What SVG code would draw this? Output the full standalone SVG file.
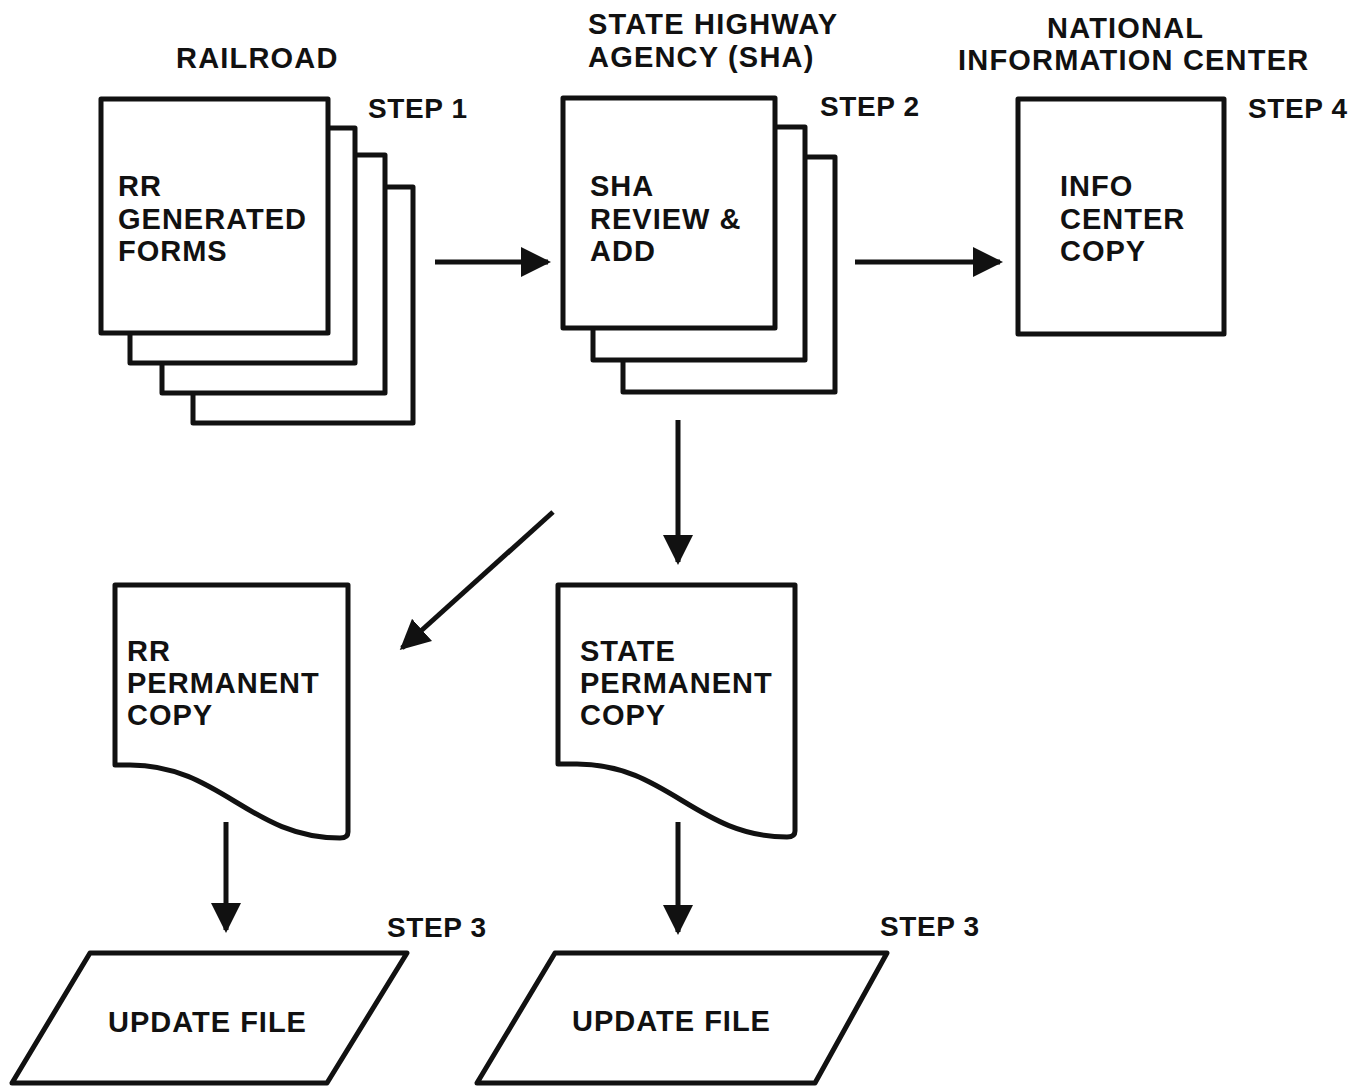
<svg xmlns="http://www.w3.org/2000/svg" width="1360" height="1091" viewBox="0 0 1360 1091">
<defs>
<style>
text{font-family:"Liberation Sans",Arial,sans-serif;font-weight:bold;fill:#111;}
.t{font-size:29px;letter-spacing:1px;}
.h{font-size:29px;letter-spacing:1.2px;}
.s{font-size:28px;letter-spacing:0.6px;}
.box{fill:#fff;stroke:#111;stroke-width:5;stroke-linejoin:round;}
.ln{fill:none;stroke:#111;stroke-width:5;}
</style>
<marker id="ah" viewBox="0 0 10 10" refX="9" refY="5" markerWidth="6" markerHeight="6" markerUnits="strokeWidth" orient="auto">
<path d="M0,0 L10,5 L0,10 z" fill="#111"/>
</marker>
</defs>
<rect width="1360" height="1091" fill="#fff"/>

<g id="headers">
<text class="h" x="176" y="68">RAILROAD</text>
<text class="h" x="588" y="34">STATE HIGHWAY</text>
<text class="h" x="588" y="67">AGENCY (SHA)</text>
<text class="h" x="1047" y="38">NATIONAL</text>
<text class="h" x="958" y="70">INFORMATION CENTER</text>
</g>

<g id="rr-forms">
<rect class="box" x="193" y="187" width="220" height="236"/>
<rect class="box" x="162" y="155" width="223" height="238"/>
<rect class="box" x="130" y="128" width="225" height="235"/>
<rect class="box" x="101" y="99" width="227" height="234"/>
<text class="t" x="118" y="196">RR</text>
<text class="t" x="118" y="229">GENERATED</text>
<text class="t" x="118" y="261">FORMS</text>
<text class="s" x="368" y="118">STEP 1</text>
</g>

<g id="sha-review">
<rect class="box" x="623" y="157" width="212" height="235"/>
<rect class="box" x="593" y="127" width="212" height="233"/>
<rect class="box" x="563" y="98" width="212" height="230"/>
<text class="t" x="590" y="196">SHA</text>
<text class="t" x="590" y="229">REVIEW &amp;</text>
<text class="t" x="590" y="261">ADD</text>
<text class="s" x="820" y="116">STEP 2</text>
</g>

<g id="info-center">
<rect class="box" x="1018" y="99" width="206" height="235"/>
<text class="t" x="1060" y="196">INFO</text>
<text class="t" x="1060" y="229">CENTER</text>
<text class="t" x="1060" y="261">COPY</text>
<text class="s" x="1248" y="118">STEP 4</text>
</g>

<g id="rr-permanent">
<path class="box" d="M115,585 H348 V832 Q348,838 340,838 C250,838 220,765 130,765 H115 Z"/>
<text class="t" x="127" y="661">RR</text>
<text class="t" x="127" y="693">PERMANENT</text>
<text class="t" x="127" y="725">COPY</text>
</g>

<g id="state-permanent">
<path class="box" d="M558,585 H795 V831 Q795,837 787,837 C697,837 667,764 577,764 H558 Z"/>
<text class="t" x="580" y="661">STATE</text>
<text class="t" x="580" y="693">PERMANENT</text>
<text class="t" x="580" y="725">COPY</text>
</g>

<g id="rr-update">
<path class="box" d="M90,953 H407 L327,1083 H12 Z"/>
<text class="t" x="108" y="1032">UPDATE FILE</text>
<text class="s" x="387" y="937">STEP 3</text>
</g>

<g id="state-update">
<path class="box" d="M555,953 H887 L815,1083 H477 Z"/>
<text class="t" x="572" y="1031">UPDATE FILE</text>
<text class="s" x="880" y="936">STEP 3</text>
</g>

<g id="connectors">
<line class="ln" x1="435" y1="262" x2="548" y2="262" marker-end="url(#ah)"/>
<line class="ln" x1="855" y1="262" x2="1000" y2="262" marker-end="url(#ah)"/>
<line class="ln" x1="678" y1="420" x2="678" y2="562" marker-end="url(#ah)"/>
<line class="ln" x1="553" y1="512" x2="402" y2="648" marker-end="url(#ah)"/>
<line class="ln" x1="226" y1="822" x2="226" y2="930" marker-end="url(#ah)"/>
<line class="ln" x1="678" y1="822" x2="678" y2="932" marker-end="url(#ah)"/>
</g>
</svg>
